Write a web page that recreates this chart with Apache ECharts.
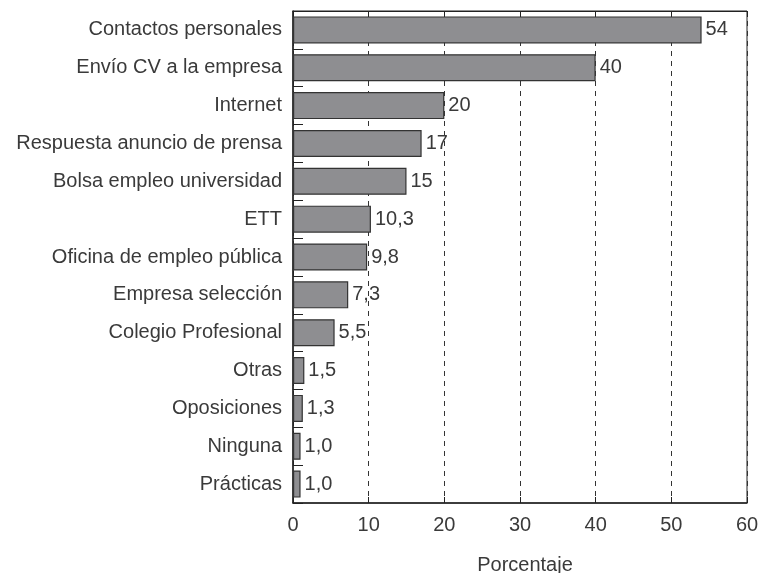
<!DOCTYPE html>
<html>
<head>
<meta charset="utf-8">
<script src="https://cdn.jsdelivr.net/npm/echarts@6/dist/echarts.min.js"></script>
<style>
  html, body { margin: 0; padding: 0; background: #fff; }
  #chart { width: 759px; height: 573px; }
</style>
</head>
<body>
<div id="chart"></div>
<script>
  // datos
  var categorias = [
    "Contactos personales",
    "Envío CV a la empresa",
    "Internet",
    "Respuesta anuncio de prensa",
    "Bolsa empleo universidad",
    "ETT",
    "Oficina de empleo pública",
    "Empresa selección",
    "Colegio Profesional",
    "Otras",
    "Oposiciones",
    "Ninguna",
    "Prácticas"
  ];
  var valores = [54, 40, 20, 17, 15, 10.3, 9.8, 7.3, 5.5, 1.5, 1.3, 1.0, 1.0];
  var etiquetas = ["54", "40", "20", "17", "15", "10,3", "9,8", "7,3", "5,5", "1,5", "1,3", "1,0", "1,0"];

  var txt = "#3a3a3a";
  var fuente = "Liberation Sans";
  var tam = 20;

  var mychart = echarts.init(document.getElementById("chart"));
  var option = {
    animation: false,
    textStyle: { fontFamily: fuente },
    grid: {
      top: 11,
      left: 293,
      right: 12,
      bottom: 70,
      containLabel: false,
      outerBoundsMode: "none",
      show: true,
      borderColor: "#222",
      borderWidth: 1
    },
    xAxis: [
      {
        type: "value",
        min: 0,
        max: 60,
        interval: 10,
        position: "bottom",
        name: "Porcentaje",
        nameLocation: "middle",
        nameGap: 52,
        nameTextStyle: { color: txt, fontSize: 20, fontFamily: fuente, padding: [0, 0, 0, 10] },
        axisLine: { show: true, lineStyle: { color: "#222", width: 1.5 } },
        axisTick: { show: true, inside: true, length: 6, lineStyle: { color: "#222" } },
        axisLabel: { color: txt, fontSize: tam, margin: 12, fontFamily: fuente },
        splitLine: { show: true, lineStyle: { color: "#333", type: [5, 5], width: 1 } }
      },
      {
        type: "value",
        min: 0,
        max: 60,
        interval: 10,
        position: "top",
        axisLine: { show: true, lineStyle: { color: "#222" } },
        axisTick: { show: true, inside: true, length: 6, lineStyle: { color: "#222" } },
        axisLabel: { show: false },
        splitLine: { show: false }
      }
    ],
    yAxis: {
      type: "category",
      data: categorias,
      inverse: true,
      axisLine: { show: true, lineStyle: { color: "#222", width: 1.5 } },
      axisTick: { show: true, inside: true, length: 10, lineStyle: { color: "#222" } },
      axisLabel: { color: txt, fontSize: tam, margin: 11, fontFamily: fuente }
    },
    series: [
      {
        type: "bar",
        xAxisIndex: 0,
        data: valores,
        barWidth: 27,
        itemStyle: { color: "#8e8e91", borderColor: "#333", borderWidth: 1.2 },
        label: {
          show: true,
          position: "right",
          distance: 4,
          color: txt,
          fontSize: tam,
          fontFamily: fuente,
          formatter: function (p) { return etiquetas[p.dataIndex]; }
        }
      }
    ]
  };
  mychart.setOption(option);
</script>
</body>
</html>
